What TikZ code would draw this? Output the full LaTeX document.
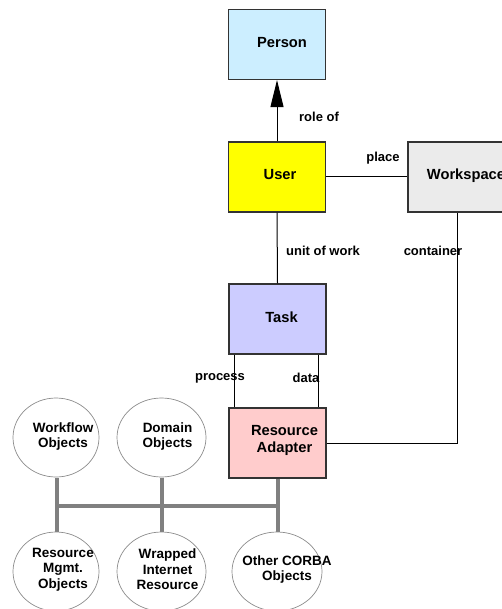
\documentclass[tikz,border=0pt]{standalone}
\usepackage{fontspec}
\setmainfont{Liberation Sans}
\usetikzlibrary{shapes.geometric,arrows.meta}

\definecolor{personfill}{HTML}{CCEEFF}
\definecolor{userfill}{HTML}{FFFF00}
\definecolor{taskfill}{HTML}{CCCCFF}
\definecolor{adapterfill}{HTML}{FFCCCC}
\definecolor{wsfill}{HTML}{EBEBEB}
\definecolor{busgrey}{HTML}{808080}
\definecolor{rimgrey}{HTML}{8C8C8C}
\definecolor{linedark}{HTML}{333333}

\tikzset{
  box/.style={draw=linedark, line width=1.2pt, minimum width=97pt, minimum height=70pt,
    inner sep=0pt},
  boxtext/.style={font=\bfseries\fontsize{14.7}{17}\selectfont, align=center},
  blob/.style={ellipse, draw=rimgrey, line width=0.7pt, fill=white,
    minimum width=86pt, minimum height=79pt, inner sep=0pt},
  blobtext/.style={font=\bfseries\fontsize{13.5}{15.5}\selectfont, align=center},
  rel/.style={font=\bfseries\fontsize{13}{15}\selectfont},
  conn/.style={draw=black, line width=1pt},
  bus/.style={draw=busgrey, line width=4pt}
}

\begin{document}
\begin{tikzpicture}[x=1pt, y=-1pt]
\useasboundingbox (0,0) rectangle (501,609);

% class boxes
\node[box, fill=personfill, label={[boxtext, xshift=5pt, yshift=2pt]center:Person}] (Person) at (277,44.5) {};
\node[box, fill=userfill, label={[boxtext, xshift=3pt, yshift=2pt]center:User}] (User) at (277,177) {};
\node[box, fill=wsfill, minimum width=108pt, label={[boxtext, xshift=4pt, yshift=1pt]center:Workspace}] (Work) at (462,177) {};
\node[box, fill=taskfill, label={[boxtext, xshift=4pt, yshift=2pt]center:Task}] (Task) at (277.5,319) {};
\node[box, fill=adapterfill, label={[boxtext, xshift=7pt, yshift=2.5pt]center:Resource\\Adapter}] (Adapter) at (277.5,443) {};

% associations
\draw[conn, -{Triangle[length=27pt,width=13pt]}] (User.north) -- (Person.south);
\draw[conn] (User.east) -- (Work.west);
\draw[conn] (User.south) -- (Task.north);
\draw[conn] ([xshift=6pt]Task.south west) -- ([xshift=6pt]Adapter.north west);
\draw[conn] ([xshift=-8pt]Task.south east) -- ([xshift=-8pt]Adapter.north east);
\draw[conn] (Adapter.east) -| ([xshift=-5pt]Work.south);

% association labels
\node[rel] (lRole) at (319,117) {role of};
\node[rel] (lPlace) at (383,158) {place};
\node[rel] (lUnit) at (323,251) {unit of work};
\node[rel] (lCont) at (433,251) {container};
\node[rel] (lProc) at (220,378) {process};
\node[rel] (lData) at (306,378) {data};

% object bus
\coordinate (busline) at (0,506);
\draw[bus] (57,477.5) -- (57,532);
\draw[bus] (161.5,477.5) -- (161.5,532);
\draw[bus] (Adapter.south) -- (277.5,532);
\draw[bus] (57,506) -- (Adapter.south |- busline);

% object ellipses
\node[blob, label={[blobtext, xshift=7pt, yshift=1pt]center:Workflow\\Objects}] (Wf) at (56,437.5) {};
\node[blob, minimum width=89pt, label={[blobtext, xshift=6pt, yshift=1pt]center:Domain\\Objects}] (Dom) at (161.5,437.5) {};
\node[blob, label={[blobtext, xshift=7pt, yshift=2pt]center:Resource\\Mgmt.\\Objects}] (Rm) at (56,571.5) {};
\node[blob, minimum width=89pt, label={[blobtext, xshift=6pt, yshift=2pt]center:Wrapped\\Internet\\Resource}] (Wr) at (161.5,571.5) {};
\node[blob, minimum width=90pt, label={[blobtext, xshift=10pt, yshift=2pt]center:Other CORBA\\Objects}] (Oc) at (277,571.5) {};
\end{tikzpicture}
\end{document}
